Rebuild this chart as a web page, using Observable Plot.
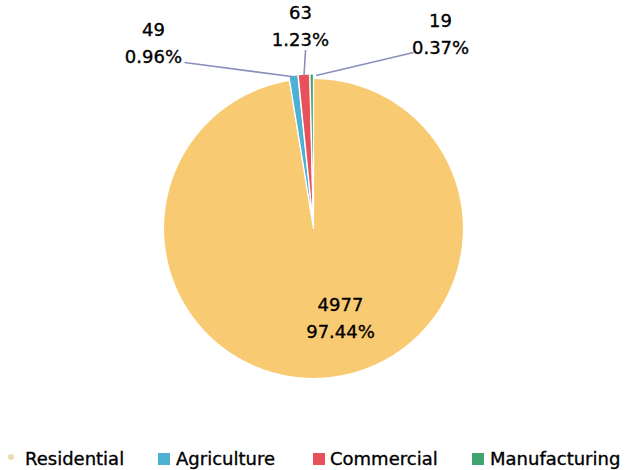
<!DOCTYPE html>
<html>
<head>
<meta charset="utf-8">
<script src="https://cdn.jsdelivr.net/npm/d3@7"></script>
<script src="https://cdn.jsdelivr.net/npm/@observablehq/plot@0.6"></script>
<style>
  html, body { margin: 0; padding: 0; background: #fff; }
  #wrap { width: 629px; position: relative; font-family: "DejaVu Sans", sans-serif; }
  #legend { position: relative; width: 629px; height: 30px; font-size: 18px; color: #000; }
  #legend .t { position: absolute; top: 10px; line-height: 18px; white-space: nowrap; -webkit-text-stroke: 0.35px #000; }
  #legend .m { position: absolute; width: 12px; height: 12px; }
</style>
</head>
<body>
<div id="wrap"></div>
<script>
// ---- data ----
const categories = ["Residential", "Agriculture", "Commercial", "Manufacturing"];
const counts = [4977, 49, 63, 19];
const percentLabels = ["97.44%", "0.96%", "1.23%", "0.37%"];
const colors = ["#F8CB73", "#4DB1D3", "#E8505B", "#3EA571"];

// ---- layout (in pie-radius units, y up, origin = pie centre) ----
const labelAt = {
  Residential: [0.18, -0.58],
  Agriculture: [-1.067, 1.25],
  Commercial: [-0.087, 1.367],
  Manufacturing: [0.847, 1.312]
};
const leaderFrom = {
  Agriculture: [-0.86, 1.107],
  Commercial: [-0.053, 1.19],
  Manufacturing: [0.667, 1.173]
};
const leaderShift = {Agriculture: 0, Commercial: 0, Manufacturing: 0.03};
const explode = {Residential: 0, Agriculture: 0.03, Commercial: 0.03, Manufacturing: 0.03};

const rows = categories.map((c, i) => ({cat: c, count: counts[i], pct: percentLabels[i]}));
const arcs = d3.pie().sort(null).value(d => d.count)(rows);

// polygon points for each slice, derived from the pie angles
const pts = [];
const leaders = [];
arcs.forEach(a => {
  const c = a.data.cat;
  const mid = (a.startAngle + a.endAngle) / 2;
  const ox = explode[c] * Math.sin(mid), oy = explode[c] * Math.cos(mid);
  pts.push({cat: c, x: ox, y: oy});
  const n = Math.max(2, Math.ceil((a.endAngle - a.startAngle) / 0.01));
  for (let k = 0; k <= n; k++) {
    const t = a.startAngle + (a.endAngle - a.startAngle) * k / n;
    pts.push({cat: c, x: ox + Math.sin(t), y: oy + Math.cos(t)});
  }
  if (leaderFrom[c]) {
    leaders.push({cat: c, x1: leaderFrom[c][0], y1: leaderFrom[c][1],
      x2: ox + 0.99 * Math.sin(mid) + leaderShift[c], y2: oy + 0.99 * Math.cos(mid)});
  }
});

const W = 629, H = 440, R = 150, CX = 313, CY = 228;

const chart = Plot.plot({
  width: W, height: H,
  margin: 0,
  x: {domain: [-CX / R, (W - CX) / R], axis: null},
  y: {domain: [(CY - H) / R, CY / R], axis: null},
  color: {domain: categories, range: colors},
  style: {fontFamily: "DejaVu Sans, sans-serif", background: "#fff"},
  marks: [
    Plot.line(pts, {x: "x", y: "y", z: "cat", fill: "cat", stroke: "#fff", strokeWidth: 1.2, curve: "linear-closed"}),
    Plot.link(leaders, {x1: "x1", y1: "y1", x2: "x2", y2: "y2", stroke: "#8B8FBC", strokeWidth: 1.6}),
    Plot.text(rows, {
      x: d => labelAt[d.cat][0], y: d => labelAt[d.cat][1],
      text: d => `${d.count}\n${d.pct}`,
      lineHeight: 1.5, fontSize: 18, fill: "#000", stroke: "#000", strokeWidth: 0.35, textAnchor: "middle"
    })
  ]
});

const wrap = document.getElementById("wrap");
wrap.appendChild(chart);

// legend below the SVG
const legend = document.createElement("div");
legend.id = "legend";
const items = [
  {cat: categories[0], color: colors[0], mx: 8, tx: 25, dot: true},
  {cat: categories[1], color: colors[1], mx: 158, tx: 176},
  {cat: categories[2], color: colors[2], mx: 313, tx: 330},
  {cat: categories[3], color: colors[3], mx: 472, tx: 490}
];
items.forEach(it => {
  const m = document.createElement("div");
  m.className = "m";
  if (it.dot) {
    m.style.width = "6px"; m.style.height = "6px"; m.style.borderRadius = "3px";
    m.style.left = it.mx + "px"; m.style.top = "14px";
    m.style.background = "#EBDDB0";
  } else {
    m.style.left = it.mx + "px"; m.style.top = "13px";
    m.style.background = it.color;
  }
  legend.appendChild(m);
  const t = document.createElement("span");
  t.className = "t";
  t.style.left = it.tx + "px";
  t.textContent = it.cat;
  legend.appendChild(t);
});
wrap.appendChild(legend);
</script>
</body>
</html>
